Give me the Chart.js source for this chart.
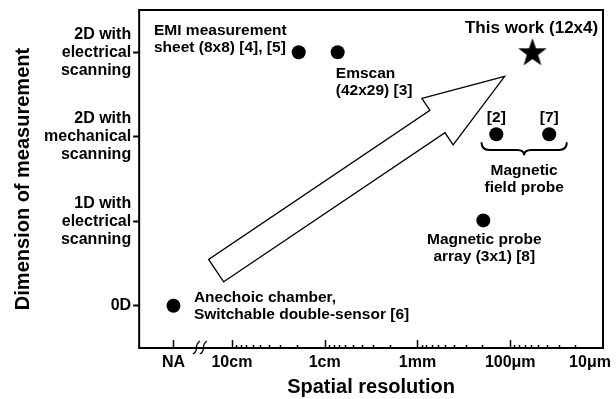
<!DOCTYPE html>
<html>
<head>
<meta charset="utf-8">
<script src="https://cdn.jsdelivr.net/npm/chart.js@4.4.0/dist/chart.umd.min.js"></script>
<style>
  html, body { margin: 0; padding: 0; background: #fff; }
</style>
</head>
<body>
<canvas id="chart" width="616" height="399"></canvas>
<script>
// x = decades of spatial resolution (10cm = 1, 1cm = 2, ...), NA sits left of the break
const xTickValues = [0.37, 1, 2, 3, 4, 5];
const xTickLabels = ["NA", "10cm", "1cm", "1mm", "100\u03bcm", "10\u03bcm"];
const yTickValues = [0, 1, 2, 3];
const yTickLabels = [
    ["0D"],
    ["1D with", "electrical", "scanning"],
    ["2D with", "mechanical", "scanning"],
    ["2D with", "electrical", "scanning"]
];

const pointNames = ["Anechoic chamber", "EMI measurement sheet", "Emscan",
    "Magnetic field probe [2]", "Magnetic field probe [7]", "Magnetic probe array", "This work"];
const resolution = [0.37, 1.72, 2.14, 3.85, 4.42, 3.71, 4.24];
const dimension = [0, 3, 3, 2.03, 2.03, 1.01, 2.99];

const FONT = "'Liberation Sans', Arial, sans-serif";

// text notes, anchored in data units
const notes = [
    { lines: ["EMI measurement", "sheet (8x8) [4], [5]"], x: 0.16, y: 3.16, align: "left" },
    { lines: ["Emscan", "(42x29) [3]"], x: 2.12, y: 2.65, align: "left" },
    { lines: ["This work (12x4)"], x: 4.23, y: 3.28, align: "center", size: 17 },
    { lines: ["[2]"], x: 3.85, y: 2.22, align: "center" },
    { lines: ["[7]"], x: 4.42, y: 2.22, align: "center" },
    { lines: ["Magnetic", "field probe"], x: 4.15, y: 1.50, align: "center" },
    { lines: ["Magnetic probe", "array (3x1) [8]"], x: 3.72, y: 0.68, align: "center" },
    { lines: ["Anechoic chamber,", "Switchable double-sensor [6]"], x: 0.59, y: 0.0, align: "left" }
];

const arrow = { tail: [0.83, 0.416], tip: [3.94, 2.715], shaftW: 27, headW: 56, headL: 81 };
const brace = { x1: 3.69, x2: 4.61, y: 1.935 };
const breakAt = 0.66;

function makeStar(r) {
    const c = document.createElement("canvas");
    c.width = c.height = Math.ceil(r * 2 + 2);
    const g = c.getContext("2d");
    const cx = c.width / 2, cy = c.height / 2;
    g.beginPath();
    for (let i = 0; i < 10; i++) {
        const rad = i % 2 === 0 ? r : r * 0.4;
        const a = -Math.PI / 2 + i * Math.PI / 5;
        const px = cx + rad * Math.cos(a), py = cy + rad * Math.sin(a);
        if (i === 0) g.moveTo(px, py); else g.lineTo(px, py);
    }
    g.closePath();
    g.fillStyle = "#000";
    g.fill();
    return c;
}

const circlePts = [];
const starPts = [];
pointNames.forEach((n, i) => {
    const p = { x: resolution[i], y: dimension[i] };
    if (n === "This work") starPts.push(p); else circlePts.push(p);
});

const extras = {
    id: "extras",
    beforeDraw(chart) {
        // the last x label sits a little inside the frame, as in the original figure
        const items = chart.scales.x.getLabelItems();
        const last = items[items.length - 1];
        if (last && last.options && last.options.translation) last.options.translation[0] -= 13;
    },
    afterDraw(chart) {
        const ctx = chart.ctx;
        const a = chart.chartArea;
        const xs = chart.scales.x, ys = chart.scales.y;
        ctx.save();
        ctx.strokeStyle = "#000";
        ctx.fillStyle = "#000";

        // frame
        ctx.lineWidth = 2;
        ctx.strokeRect(a.left, a.top, a.right - a.left, a.bottom - a.top);

        // inward x ticks
        ctx.lineWidth = 1.5;
        xTickValues.forEach(v => {
            const px = Math.round(xs.getPixelForValue(v)) + 0.5;
            if (v >= 5) return;
            ctx.beginPath();
            ctx.moveTo(px, a.bottom);
            ctx.lineTo(px, a.bottom - 8);
            ctx.stroke();
        });
        for (let d = 1; d < 5; d++) {
            for (let k = 9; k >= 2; k--) {
                const px = Math.round(xs.getPixelForValue(d + Math.log10(10 / k))) + 0.5;
                ctx.beginPath();
                ctx.moveTo(px, a.bottom);
                ctx.lineTo(px, a.bottom - 3);
                ctx.stroke();
            }
        }

        // axis break mark
        const bx = xs.getPixelForValue(breakAt);
        ctx.lineWidth = 1.3;
        [-3.5, 3.5].forEach(off => {
            ctx.beginPath();
            ctx.moveTo(bx + off - 4, a.bottom + 6);
            ctx.bezierCurveTo(bx + off + 3, a.bottom + 2, bx + off - 4, a.bottom - 2, bx + off + 3, a.bottom - 7);
            ctx.stroke();
        });

        // hollow arrow
        const t0 = [xs.getPixelForValue(arrow.tail[0]), ys.getPixelForValue(arrow.tail[1])];
        const t1 = [xs.getPixelForValue(arrow.tip[0]), ys.getPixelForValue(arrow.tip[1])];
        const len = Math.hypot(t1[0] - t0[0], t1[1] - t0[1]);
        const d = [(t1[0] - t0[0]) / len, (t1[1] - t0[1]) / len];
        const n = [-d[1], d[0]];
        const base = [t1[0] - d[0] * arrow.headL, t1[1] - d[1] * arrow.headL];
        const at = (p, k) => [p[0] + n[0] * k, p[1] + n[1] * k];
        const poly = [at(t0, arrow.shaftW / 2), at(base, arrow.shaftW / 2), at(base, arrow.headW / 2), t1,
            at(base, -arrow.headW / 2), at(base, -arrow.shaftW / 2), at(t0, -arrow.shaftW / 2)];
        ctx.beginPath();
        poly.forEach((p, i) => i ? ctx.lineTo(p[0], p[1]) : ctx.moveTo(p[0], p[1]));
        ctx.closePath();
        ctx.fillStyle = "#fff";
        ctx.fill();
        ctx.lineWidth = 1.3;
        ctx.lineJoin = "miter";
        ctx.stroke();
        ctx.fillStyle = "#000";

        // curly brace
        const x1 = xs.getPixelForValue(brace.x1), x2 = xs.getPixelForValue(brace.x2);
        const by = ys.getPixelForValue(brace.y), xm = (x1 + x2) / 2, h = 13, hm = h * 0.6;
        ctx.lineWidth = 2;
        ctx.beginPath();
        ctx.moveTo(x1, by);
        ctx.quadraticCurveTo(x1, by + hm, x1 + 8, by + hm);
        ctx.lineTo(xm - 7, by + hm);
        ctx.quadraticCurveTo(xm, by + hm, xm, by + h);
        ctx.quadraticCurveTo(xm, by + hm, xm + 7, by + hm);
        ctx.lineTo(x2 - 8, by + hm);
        ctx.quadraticCurveTo(x2, by + hm, x2, by);
        ctx.stroke();

        // notes
        ctx.textBaseline = "middle";
        notes.forEach(nt => {
            const px = xs.getPixelForValue(nt.x);
            const py = ys.getPixelForValue(nt.y);
            ctx.font = "bold " + (nt.size || 15.5) + "px " + FONT;
            ctx.textAlign = nt.align;
            const lh = 17;
            nt.lines.forEach((s, i) => {
                ctx.fillText(s, px, py + (i - (nt.lines.length - 1) / 2) * lh);
            });
        });
        ctx.restore();
    }
};

new Chart(document.getElementById("chart"), {
    type: "scatter",
    data: {
        datasets: [{
            label: "Prior work",
            data: circlePts,
            pointStyle: "circle",
            pointRadius: 7,
            backgroundColor: "#000",
            borderWidth: 0
        }, {
            label: "This work",
            data: starPts,
            pointStyle: makeStar(15),
            pointRadius: 15
        }]
    },
    options: {
        responsive: false,
        animation: false,
        devicePixelRatio: 1,
        layout: { autoPadding: false, padding: { left: 11, right: 0, top: 10, bottom: 0 } },
        plugins: { legend: { display: false }, tooltip: { enabled: false } },
        scales: {
            x: {
                type: "linear",
                min: 0,
                max: 5,
                afterBuildTicks: axis => { axis.ticks = xTickValues.map(v => ({ value: v })); },
                afterFit: axis => { axis.height = 51; axis.paddingRight = 13; },
                ticks: {
                    callback: v => xTickLabels[xTickValues.indexOf(v)],
                    font: { family: FONT, size: 16, weight: "bold" },
                    color: "#000",
                    padding: 5,
                    maxRotation: 0,
                    autoSkip: false
                },
                grid: { display: false, drawTicks: false },
                border: { display: false },
                title: {
                    display: true,
                    text: "Spatial resolution",
                    font: { family: FONT, size: 20, weight: "bold" },
                    color: "#000",
                    padding: { top: 2, bottom: 0 }
                }
            },
            y: {
                type: "linear",
                min: -0.5,
                max: 3.5,
                afterBuildTicks: axis => { axis.ticks = yTickValues.map(v => ({ value: v })); },
                afterFit: axis => { axis.paddingTop = 0; axis.paddingBottom = 0; },
                ticks: {
                    callback: v => yTickLabels[yTickValues.indexOf(v)],
                    font: { family: FONT, size: 16, weight: "bold", lineHeight: 1.125 },
                    color: "#000",
                    padding: 2
                },
                grid: { drawOnChartArea: false, tickLength: 6, tickWidth: 2, color: "#000" },
                border: { display: false },
                title: {
                    display: true,
                    text: "Dimension of measurement",
                    font: { family: FONT, size: 20, weight: "bold" },
                    color: "#000",
                    padding: { top: 0, bottom: 7 }
                }
            }
        }
    },
    plugins: [extras]
});
</script>
</body>
</html>
